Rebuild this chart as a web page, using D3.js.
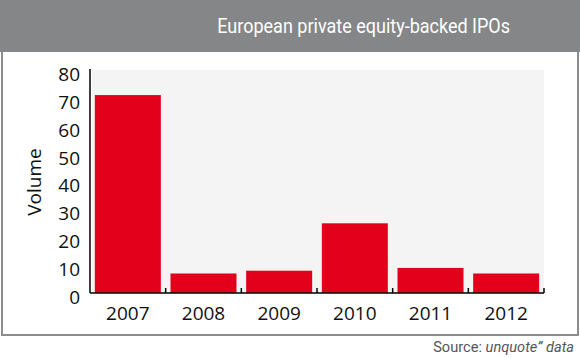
<!DOCTYPE html>
<html>
<head>
<meta charset="utf-8">
<script src="https://cdn.jsdelivr.net/npm/d3@7"></script>
<style>
  html, body { margin: 0; padding: 0; background: #ffffff; }
  svg { display: block; }
</style>
</head>
<body>
<svg id="chart" width="580" height="358"></svg>
<script>
const categories = ["2007", "2008", "2009", "2010", "2011", "2012"];
const volumes = [71, 7, 8, 25, 9, 7];
const yTicks = [0, 10, 20, 30, 40, 50, 60, 70, 80];
const titleText = "European private equity-backed IPOs";
const yLabel = "Volume";

const svg = d3.select("#chart");
const W = 580, H = 358;
const frame = { x: 2, y: 0, w: 576, h: 335 };
const headerH = 52;
const plot = { left: 90, right: 544, top: 70, bottom: 293 };
const condFont = "'Roboto', 'Liberation Sans', sans-serif";

// horizontally compress a text element so its right edge stays at xRight and width = target
function condense(sel, xRight, target) {
  const w = sel.node().getComputedTextLength();
  const k = target / w;
  sel.attr("x", 0).attr("text-anchor", "end")
     .attr("transform", `translate(${xRight},${sel.attr("y")}) scale(${k},1)`)
     .attr("y", 0);
}

// frame and header
svg.append("rect").attr("x", frame.x).attr("y", frame.y)
  .attr("width", frame.w).attr("height", frame.h)
  .attr("fill", "#ffffff").attr("stroke", "#8c8c8e").attr("stroke-width", 2);
svg.append("rect").attr("x", 0).attr("y", 0).attr("width", W).attr("height", headerH)
  .attr("fill", "#858688");
const title = svg.append("text").attr("y", 33)
  .attr("font-family", condFont)
  .attr("font-size", 21).attr("fill", "#ffffff")
  .text(titleText);
condense(title, 510, 293);

// scales
const x = d3.scaleBand().domain(categories)
  .range([plot.left, plot.right]).paddingInner(0.128).paddingOuter(0.064);
const y = d3.scaleLinear().domain([0, 80]).range([plot.bottom, plot.top]);

// plot background
svg.append("rect").attr("x", plot.left + 2).attr("y", plot.top)
  .attr("width", plot.right - plot.left - 2).attr("height", plot.bottom - plot.top)
  .attr("fill", "#f4f4f4");

// bars
svg.append("g").selectAll("rect").data(categories).join("rect")
  .attr("x", d => x(d))
  .attr("width", x.bandwidth())
  .attr("y", (d, i) => y(volumes[i]))
  .attr("height", (d, i) => y(0) - y(volumes[i]))
  .attr("fill", "#e2001a");

const font = "'Open Sans', 'Noto Sans', sans-serif";

// y axis
const yAxis = d3.axisLeft(y).tickValues(yTicks).tickSize(0).tickPadding(10);
const gy = svg.append("g").attr("transform", `translate(${plot.left},0)`).call(yAxis);
gy.select(".domain").attr("stroke", "#000").attr("stroke-width", 1.5)
  .attr("d", `M0,${plot.top - 1}V${plot.bottom}`);
gy.selectAll("text").attr("font-family", font).attr("font-size", 19)
  .attr("fill", "#111").attr("dy", "0.55em");

// x axis
const xAxis = d3.axisBottom(x).tickSize(0).tickPadding(14);
const gx = svg.append("g").attr("transform", `translate(0,${plot.bottom})`).call(xAxis);
gx.select(".domain").attr("stroke", "#000").attr("stroke-width", 1.5)
  .attr("d", `M${plot.left},0H${plot.right}`);
gx.selectAll("text").attr("font-family", font).attr("font-size", 19).attr("fill", "#111");
const boundaries = categories.slice(1).map(c => x(c) - x.step() * x.paddingInner() / 2)
  .concat([plot.right]);
gx.append("g").selectAll("line").data(boundaries).join("line")
  .attr("x1", d => d).attr("x2", d => d).attr("y1", 0).attr("y2", -5)
  .attr("stroke", "#000").attr("stroke-width", 1.5);

// y label
svg.append("text")
  .attr("transform", `translate(41,182) rotate(-90)`)
  .attr("text-anchor", "middle")
  .attr("font-family", font).attr("font-size", 19).attr("fill", "#111")
  .text(yLabel);

// source
const src = svg.append("text").attr("y", 352)
  .attr("font-family", condFont)
  .attr("font-size", 15).attr("fill", "#555");
src.append("tspan").text("Source: ");
src.append("tspan").attr("font-style", "italic").text("unquote\u201D data");
condense(src, 574, 141);
</script>
</body>
</html>
